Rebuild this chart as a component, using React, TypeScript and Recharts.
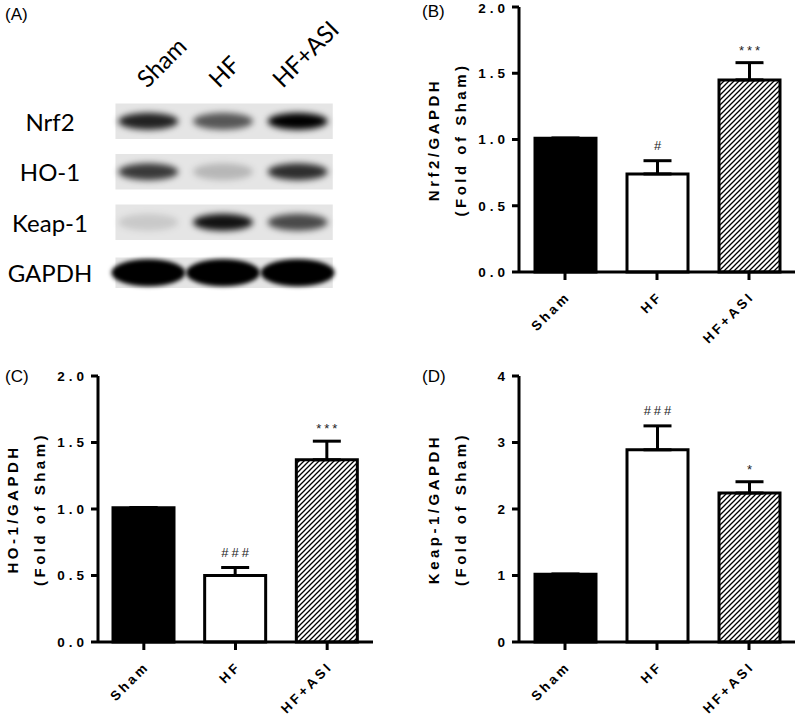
import React from "react";
import {
  Bar,
  BarChart,
  Cell,
  ErrorBar,
  LabelList,
  ReferenceArea,
  Scatter,
  ScatterChart,
  XAxis,
  YAxis,
} from "recharts";

const groups = ["Sham", "HF", "HF+ASI"];

// (B) Nrf2/GAPDH, fold of sham
const nrf2Mean = [1.01, 0.74, 1.45];
const nrf2Sem = [0, 0.1, 0.13];
const nrf2Sig = ["", "#", "***"];

// (C) HO-1/GAPDH
const ho1Mean = [1.01, 0.5, 1.37];
const ho1Sem = [0, 0.06, 0.14];
const ho1Sig = ["", "###", "***"];

// (D) Keap-1/GAPDH
const keapMean = [1.02, 2.89, 2.24];
const keapSem = [0, 0.36, 0.17];
const keapSig = ["", "###", "*"];

// (A) blot band darkness per lane (0 = nothing, 1 = saturated)
const blotRows = ["Nrf2", "HO-1", "Keap-1", "GAPDH"];
const nrf2Band = [0.85, 0.62, 1];
const ho1Band = [0.75, 0.2, 0.8];
const keapBand = [0.12, 0.92, 0.68];
const gapdhBand = [1, 1, 1];

const ARIAL = "'Liberation Sans', Arial, sans-serif";
const BLOT_FONT = "Lato, 'Open Sans', sans-serif";
// lane captions in the blot are not evenly placed
const laneLabelDx = [-1, -4, -15];

type Row = { group: string; mean: number; err: number[]; sem: number; sig: string };

function buildRows(mean: number[], sem: number[], sig: string[]): Row[] {
  return groups.map((group, i) => ({
    group,
    mean: mean[i],
    err: [0, sem[i]],
    sem: sem[i],
    sig: sig[i],
  }));
}

function GroupTick(props: any) {
  const { x, y, payload } = props;
  const ax = x + 3;
  const ay = y + 12;
  return (
    <text
      x={ax}
      y={ay}
      dy="0.35em"
      transform={`rotate(-45 ${ax} ${ay})`}
      textAnchor="end"
      fontFamily={ARIAL}
      fontWeight={700}
      fontSize={13.5}
      letterSpacing={3}
      fill="#000"
    >
      {payload.value}
    </text>
  );
}

function YTitle({ viewBox, lines }: { viewBox: any; lines: string[] }) {
  if (!viewBox) return null;
  const left = viewBox.x + viewBox.width;
  const cy = viewBox.y + viewBox.height / 2;
  return (
    <g>
      {lines.map((t, i) => {
        const x = left - 86 + i * 27;
        return (
          <text
            key={t}
            x={x}
            y={cy}
            transform={`rotate(-90 ${x} ${cy})`}
            textAnchor="middle"
            dominantBaseline="central"
            fontFamily={ARIAL}
            fontWeight={700}
            fontSize={15}
            letterSpacing={3.5}
            fill="#000"
          >
            {t}
          </text>
        );
      })}
    </g>
  );
}

// significance marks sit just above the error bar cap
function sigContent(rows: Row[]) {
  return (props: any) => {
    const vb = props.viewBox ?? props;
    const row = rows[props.index];
    if (!row || !row.sig || !vb) return null;
    const perUnit = vb.height / row.mean;
    const cx = vb.x + vb.width / 2;
    const capY = vb.y - row.sem * perUnit;
    const off = row.sig.startsWith("#") ? 11 : 8;
    return (
      <text
        x={cx + 1.5}
        y={capY - off}
        textAnchor="middle"
        fontFamily={ARIAL}
        fontSize={13}
        letterSpacing={3}
        fill="#222"
      >
        {row.sig}
      </text>
    );
  };
}

type PanelProps = {
  id: string;
  rows: Row[];
  max: number;
  ticks: number[];
  fmt: (v: number) => string;
  titles: string[];
  left: number;
  top: number;
  height: number;
  margin: { top: number; right: number; left: number; bottom: number };
  xHeight: number;
};

function BarPanel({ id, rows, max, ticks, fmt, titles, left, top, height, margin, xHeight }: PanelProps) {
  const axisStyle = { stroke: "#000", strokeWidth: 3 };
  return (
    <div style={{ position: "absolute", left, top }}>
      <BarChart width={400} height={height} data={rows} margin={margin}>
        <defs>
          <pattern id={id} width={5} height={5} patternUnits="userSpaceOnUse">
            <rect width={5} height={5} fill="#fff" />
            <path d="M-1,1 l2,-2 M0,5 l5,-5 M4,6 l2,-2" stroke="#000" strokeWidth={1.3} />
          </pattern>
        </defs>
        <XAxis
          dataKey="group"
          interval={0}
          height={xHeight}
          axisLine={axisStyle}
          tickLine={axisStyle}
          tickSize={8}
          tick={<GroupTick />}
        />
        <YAxis
          width={60}
          domain={[0, max]}
          ticks={ticks}
          tickFormatter={fmt}
          axisLine={axisStyle}
          tickLine={axisStyle}
          tickSize={7}
          tickMargin={3}
          tick={{ fill: "#000", fontSize: 13.5, fontWeight: 700, fontFamily: ARIAL, letterSpacing: 4 }}
          label={{ content: (p: any) => <YTitle viewBox={p.viewBox} lines={titles} /> }}
        />
        <Bar dataKey="mean" barSize={61} stroke="#000" strokeWidth={3} isAnimationActive={false}>
          {rows.map((r, i) => (
            <Cell key={r.group} fill={i === 0 ? "#000" : i === 1 ? "#fff" : `url(#${id})`} />
          ))}
          <ErrorBar dataKey="err" direction="y" width={14} stroke="#000" strokeWidth={3} isAnimationActive={false} />
          <LabelList dataKey="sig" content={sigContent(rows)} />
        </Bar>
      </BarChart>
    </div>
  );
}

function LaneTick(props: any) {
  const { x, payload } = props;
  const lane = Math.floor(payload.value);
  const ax = x + laneLabelDx[lane];
  const ay = 89;
  return (
    <text
      x={ax}
      y={ay}
      transform={`rotate(-45 ${ax} ${ay})`}
      textAnchor="start"
      fontFamily={BLOT_FONT}
      fontSize={24}
      fill="#000"
    >
      {groups[lane]}
    </text>
  );
}

function RowTick(props: any) {
  const { y, payload } = props;
  return (
    <text x={50} y={y} textAnchor="middle" dominantBaseline="central" fontFamily={BLOT_FONT} fontSize={24} fill="#000">
      {blotRows[payload.value]}
    </text>
  );
}

function Band(props: any) {
  const { cx, cy, payload } = props;
  const big = payload.row === 3;
  return (
    <ellipse
      cx={cx}
      cy={cy}
      rx={big ? 37 : 30}
      ry={big ? 13.5 : 8.5}
      fill="#000"
      fillOpacity={payload.dark}
      filter={big ? "url(#blotBlurBig)" : "url(#blotBlur)"}
    />
  );
}

function Blot() {
  const bands = [nrf2Band, ho1Band, keapBand, gapdhBand];
  const data = blotRows.flatMap((_, r) => bands[r].map((dark, l) => ({ lane: l + 0.5, row: r, dark })));
  return (
    <div style={{ position: "absolute", left: 0, top: 0 }}>
      <ScatterChart width={400} height={300} margin={{ top: 0, right: 65, left: 0, bottom: 2 }}>
        <defs>
          <filter id="blotBlur" x="-50%" y="-150%" width="200%" height="400%">
            <feGaussianBlur stdDeviation={3.2} />
          </filter>
          <filter id="blotBlurBig" x="-30%" y="-60%" width="160%" height="220%">
            <feGaussianBlur stdDeviation={2.2} />
          </filter>
        </defs>
        <XAxis
          type="number"
          dataKey="lane"
          domain={[0, 3]}
          orientation="top"
          height={96}
          ticks={[0.5, 1.5, 2.5]}
          axisLine={false}
          tickLine={false}
          tick={<LaneTick />}
        />
        <YAxis
          type="number"
          dataKey="row"
          domain={[-0.5, 3.5]}
          reversed
          width={111}
          ticks={[0, 1, 2, 3]}
          axisLine={false}
          tickLine={false}
          tick={<RowTick />}
        />
        {blotRows.map((name, r) => (
          <ReferenceArea
            key={name}
            x1={0.06}
            x2={2.97}
            y1={r - (r === 3 ? 0.3 : 0.35)}
            y2={r + (r === 3 ? 0.3 : 0.35)}
            fill="#e5e5e5"
            fillOpacity={1}
            stroke="none"
          />
        ))}
        <Scatter data={data} shape={(p: any) => <Band {...p} />} isAnimationActive={false} />
      </ScatterChart>
    </div>
  );
}

const letterStyle: React.CSSProperties = {
  position: "absolute",
  fontFamily: ARIAL,
  fontSize: 17,
  lineHeight: "20px",
  color: "#000",
};

export default function App() {
  return (
    <div
      style={{
        position: "absolute",
        left: 0,
        top: 0,
        width: 800,
        height: 715,
        background: "#fff",
        overflow: "hidden",
      }}
    >
      <style>{"svg.recharts-surface{overflow:visible}"}</style>
      <Blot />
      <BarPanel
        id="hatchB"
        rows={buildRows(nrf2Mean, nrf2Sem, nrf2Sig)}
        max={2}
        ticks={[0, 0.5, 1, 1.5, 2]}
        fmt={(v) => v.toFixed(1)}
        titles={["Nrf2/GAPDH", "(Fold of Sham)"]}
        left={400}
        top={0}
        height={345}
        margin={{ top: 7, right: 5, left: 59, bottom: 0 }}
        xHeight={73}
      />
      <BarPanel
        id="hatchC"
        rows={buildRows(ho1Mean, ho1Sem, ho1Sig)}
        max={2}
        ticks={[0, 0.5, 1, 1.5, 2]}
        fmt={(v) => v.toFixed(1)}
        titles={["HO-1/GAPDH", "(Fold of Sham)"]}
        left={0}
        top={330}
        height={385}
        margin={{ top: 46, right: 27, left: 38, bottom: 0 }}
        xHeight={73}
      />
      <BarPanel
        id="hatchD"
        rows={buildRows(keapMean, keapSem, keapSig)}
        max={4}
        ticks={[0, 1, 2, 3, 4]}
        fmt={(v) => String(v)}
        titles={["Keap-1/GAPDH", "(Fold of Sham)"]}
        left={400}
        top={330}
        height={385}
        margin={{ top: 46, right: 5, left: 59, bottom: 0 }}
        xHeight={73}
      />
      <div style={{ ...letterStyle, left: 5, top: 5 }}>(A)</div>
      <div style={{ ...letterStyle, left: 422, top: 2 }}>(B)</div>
      <div style={{ ...letterStyle, left: 5, top: 367 }}>(C)</div>
      <div style={{ ...letterStyle, left: 422, top: 367 }}>(D)</div>
    </div>
  );
}
